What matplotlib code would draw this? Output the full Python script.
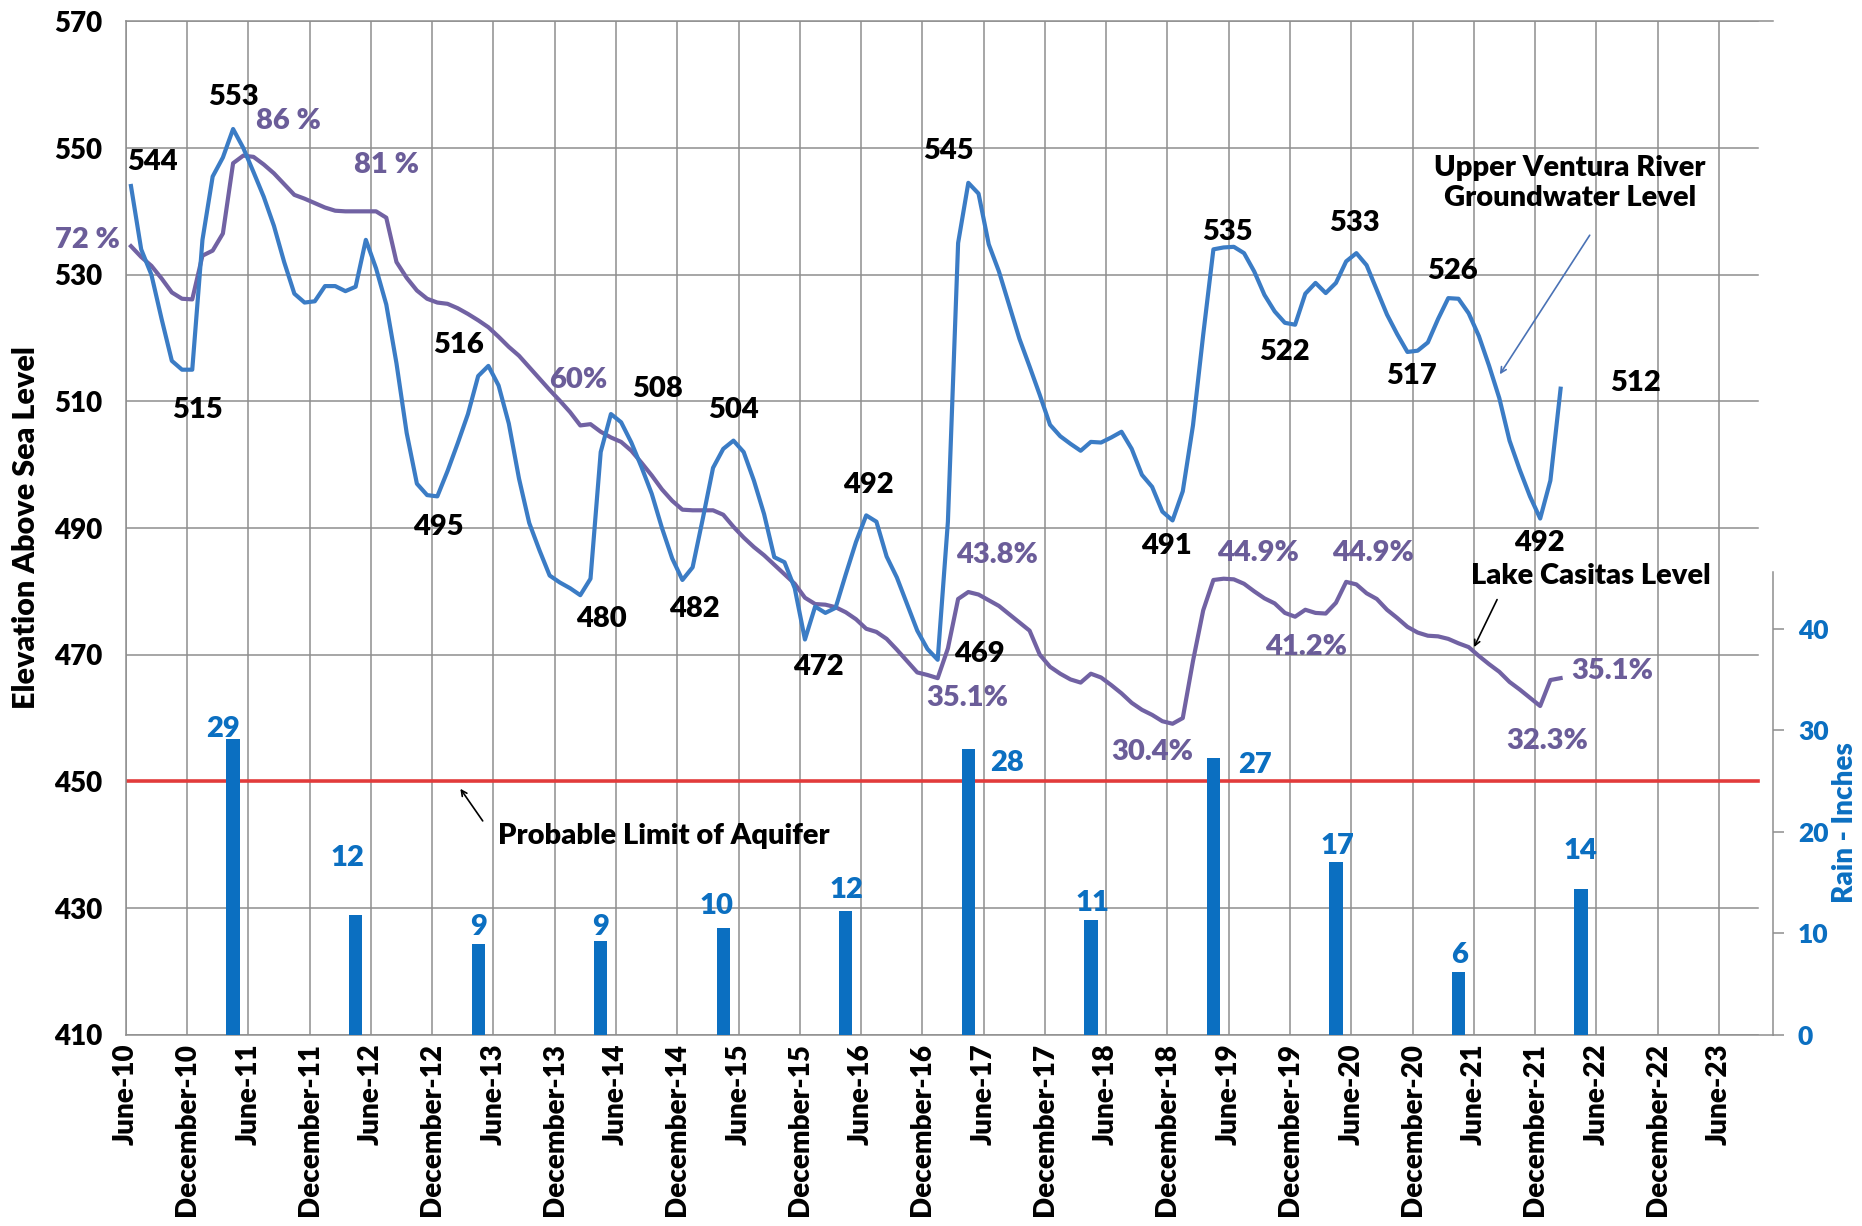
import numpy as np
import matplotlib.pyplot as plt

# Monthly levels (feet above sea level), first reading June 2010
groundwater = [
    544, 534, 530, 523, 516.4, 515, 515, 535.5, 545.5, 548.5,
    553, 550, 546.2, 542.3, 537.7, 532, 527, 525.6, 525.8, 528.2,
    528.2, 527.4, 528.1, 535.5, 531, 525.3, 516, 505, 497, 495.2,
    495, 499, 503.4, 508, 514, 515.6, 512.5, 506.5, 497.8, 490.8,
    486.5, 482.5, 481.4, 480.5, 479.4, 482, 502, 508, 506.7, 503.5,
    499.6, 495.4, 490, 485.2, 481.8, 483.8, 491.5, 499.5, 502.5, 503.8,
    502, 497.5, 492.2, 485.4, 484.6, 480.5, 472.4, 477.6, 476.6, 477.4,
    482.7, 487.8, 492, 491, 485.5, 482.2, 478, 473.8, 470.9, 469.2,
    491, 535, 544.5, 542.8, 534.8, 530.5, 525.2, 519.9, 515.5, 511,
    506.3, 504.5, 503.3, 502.2, 503.6, 503.5, 504.3, 505.2, 502.5, 498.4,
    496.5, 492.6, 491.2, 495.8, 506.2, 520.5, 534, 534.3, 534.4, 533.4,
    530.5, 526.8, 524.2, 522.4, 522.1, 527, 528.7, 527.1, 528.7, 532.1,
    533.4, 531.5, 527.6, 523.7, 520.6, 517.8, 518, 519.3, 523, 526.3,
    526.2, 523.9, 520.3, 515.6, 510.5, 503.8, 499.2, 495, 491.5, 497.5,
    512,
]
lake_casitas = [
    534.5, 532.8, 531.4, 529.4, 527.2, 526.2, 526.1, 533.0, 533.8, 536.5,
    547.6, 548.8, 548.6, 547.4, 546, 544.3, 542.6, 542, 541.3, 540.6,
    540.1, 540, 540, 540, 540, 539, 532, 529.5, 527.5, 526.2,
    525.6, 525.4, 524.7, 523.8, 522.8, 521.7, 520.2, 518.6, 517.2, 515.4,
    513.6, 511.8, 510.1, 508.3, 506.2, 506.4, 505.2, 504.3, 503.6, 502.2,
    500.3, 498.3, 496.1, 494.3, 492.9, 492.8, 492.8, 492.8, 492.1, 490.2,
    488.5, 487, 485.7, 484.2, 482.7, 481.2, 479, 478, 477.9, 477.5,
    476.7, 475.6, 474.1, 473.6, 472.5, 470.8, 469, 467.2, 466.8, 466.3,
    471, 478.8, 479.9, 479.5, 478.6, 477.7, 476.4, 475.1, 473.8, 470,
    468.1, 467, 466.1, 465.6, 467, 466.4, 465.2, 463.9, 462.4, 461.3,
    460.5, 459.5, 459.1, 460, 469, 477, 481.8, 482, 481.9, 481.2,
    480, 478.9, 478.1, 476.6, 476, 477.1, 476.6, 476.5, 478.2, 481.5,
    481.1, 479.7, 478.8, 477.1, 475.8, 474.4, 473.5, 473, 472.9, 472.5,
    471.8, 471.2, 469.8, 468.5, 467.3, 465.7, 464.5, 463.2, 461.9, 466,
    466.3,
]

# Seasonal rain (inches), shown at mid-April of each year
rain_month = [10.5, 22.5, 34.5, 46.5, 58.5, 70.5, 82.5, 94.5, 106.5, 118.5, 130.5, 142.5]
rain = [29.1, 11.8, 8.9, 9.2, 10.5, 12.2, 28.2, 11.3, 27.3, 17.0, 6.2, 14.4]
rain_text = ["29", "12", "9", "9", "10", "12", "28", "11", "27", "17", "6", "14"]

tick_labels = []
for yr in range(10, 24):
    tick_labels.append("June-%d" % yr)
    if yr < 23:
        tick_labels.append("December-%d" % yr)
tick_pos = np.arange(len(tick_labels)) * 6

BLUE = "#3b7cc5"
PURPLE = "#7162a3"
PURPLE_TXT = "#6b5d99"
BAR = "#0b6fc1"
GRID = "#8e8e8e"
FONT = "Lato"
W = "heavy"

plt.rcParams["font.family"] = [FONT, "DejaVu Sans"]
plt.rcParams["font.weight"] = W

fig = plt.figure(figsize=(18.62, 12.26), dpi=100)
left, right = 0.0676, 0.9522
bottom, top = 0.156, 0.9826
ax = fig.add_axes([left, bottom, right - left, top - bottom])

xmax = 161.3
ax.set_xlim(0, xmax)
ax.set_ylim(410, 570)

# gridlines
for v in range(410, 571, 20):
    ax.axhline(v, xmax=159.8 / xmax, color=GRID, lw=1.1, zorder=0)
for t in tick_pos:
    ax.axvline(t, color=GRID, lw=1.1, zorder=0)

ax.axhline(450, xmax=159.8 / xmax, color="#e23b3b", lw=2.6, zorder=2)

m = np.arange(len(groundwater)) + 0.5
ax.plot(m, groundwater, color=BLUE, lw=3, zorder=4)
m2 = np.arange(len(lake_casitas)) + 0.5
ax.plot(m2, lake_casitas, color=PURPLE, lw=3, zorder=3)

ax.set_yticks(range(410, 571, 20))
ax.set_xticks(tick_pos)
ax.set_xticklabels(tick_labels, rotation=90, fontsize=20, fontweight=W)
ax.tick_params(axis="y", length=0, pad=17, labelsize=20)
ax.tick_params(axis="x", length=0, pad=6)
for s in ["left", "bottom", "top"]:
    ax.spines[s].set_color(GRID)
    ax.spines[s].set_linewidth(1.1)
ax.spines["right"].set_visible(False)
ax.set_ylabel("Elevation Above Sea Level", fontsize=22, fontweight=W)
ax.yaxis.set_label_coords(-0.052, 0.5)

# point labels: (text, month, elevation, colour)
labels = [
    ("544", 2.6, 547.8, "k"), ("553", 10.5, 558.1, "k"), ("86 %", 15.9, 554.2, "p"),
    ("72 %", -3.8, 535.4, "p"), ("515", 7.0, 508.6, "k"), ("81 %", 25.5, 547.3, "p"),
    ("516", 32.6, 518.9, "k"), ("495", 30.6, 490.2, "k"), ("60%", 44.3, 513.3, "p"),
    ("508", 52.1, 512.0, "k"), ("480", 46.6, 475.7, "k"), ("504", 59.5, 508.6, "k"),
    ("482", 55.7, 477.2, "k"), ("492", 72.7, 496.8, "k"), ("472", 67.8, 468.0, "k"),
    ("545", 80.6, 549.5, "k"), ("469", 83.6, 470.1, "k"), ("43.8%", 85.3, 485.7, "p"),
    ("35.1%", 82.4, 463.1, "p"), ("491", 101.9, 487.2, "k"), ("30.4%", 100.5, 454.7, "p"),
    ("535", 107.9, 536.8, "k"), ("44.9%", 110.9, 486.1, "p"), ("522", 113.5, 517.8, "k"),
    ("41.2%", 115.6, 471.2, "p"), ("533", 120.3, 538.1, "k"), ("44.9%", 122.1, 486.1, "p"),
    ("526", 129.9, 530.6, "k"), ("517", 125.9, 514.0, "k"), ("492", 138.4, 487.7, "k"),
    ("512", 147.8, 512.9, "k"), ("35.1%", 145.6, 467.5, "p"), ("32.3%", 139.2, 456.4, "p"),
]
for txt, x, y, c in labels:
    ax.text(x, y, txt, fontsize=21, fontweight=W, ha="center", va="center",
            color="black" if c == "k" else PURPLE_TXT, zorder=6, clip_on=False)

ax.text(141.4, 544.5, "Upper Ventura River\nGroundwater Level", fontsize=21,
        fontweight=W, ha="center", va="center", linespacing=1.2, zorder=6)
ax.annotate("", xy=(134.4, 513.9), xytext=(143.5, 536.6),
            arrowprops=dict(arrowstyle="->", color="#4a72b5", lw=1.2), zorder=6)
ax.text(143.5, 482.5, "Lake Casitas Level", fontsize=21, fontweight=W,
        ha="center", va="center", zorder=6)
ax.annotate("", xy=(131.9, 470.8), xytext=(134.4, 479.1),
            arrowprops=dict(arrowstyle="->", color="black", lw=1.2), zorder=6)
ax.text(36.4, 441.4, "Probable Limit of Aquifer", fontsize=21, fontweight=W,
        ha="left", va="center", zorder=6)
ax.annotate("", xy=(32.6, 449.2), xytext=(35.1, 443.4),
            arrowprops=dict(arrowstyle="->", color="black", lw=1.2), zorder=6)

# rain axis on the lower part
rain_top = 0.5334
ax2 = fig.add_axes([left, bottom, right - left, rain_top - bottom])
ax2.patch.set_alpha(0)
ax2.set_xlim(0, xmax)
ax2.set_ylim(0, 45.6)
ax2.bar(rain_month, rain, width=1.3, color=BAR, zorder=5)

rain_lab_pos = [(9.5, 30.1), (21.7, 17.4), (34.5, 10.6), (46.5, 10.6), (57.8, 12.7),
                (70.6, 14.3), (86.3, 26.8), (94.7, 13.0), (110.6, 26.6), (118.6, 18.6),
                (130.6, 7.9), (142.4, 18.1)]
for txt, (x, y) in zip(rain_text, rain_lab_pos):
    ax2.text(x, y, txt, fontsize=21, fontweight=W, color=BAR,
             ha="center", va="center", zorder=6)

for s in ["left", "bottom", "top"]:
    ax2.spines[s].set_visible(False)
ax2.spines["right"].set_color(GRID)
ax2.spines["right"].set_linewidth(1.1)
ax2.set_xticks([])
ax2.yaxis.tick_right()
ax2.set_yticks([0, 10, 20, 30, 40])
ax2.tick_params(axis="y", direction="out", length=8, width=1.1, color=GRID,
                labelcolor=BAR, labelsize=19, pad=10)
ax2.yaxis.set_label_position("right")
ax2.set_ylabel("Rain - Inches", fontsize=20, fontweight=W, color=BAR)
ax2.yaxis.set_label_coords(1.036, 0.4575)

fig.savefig("out.png", dpi=100)
